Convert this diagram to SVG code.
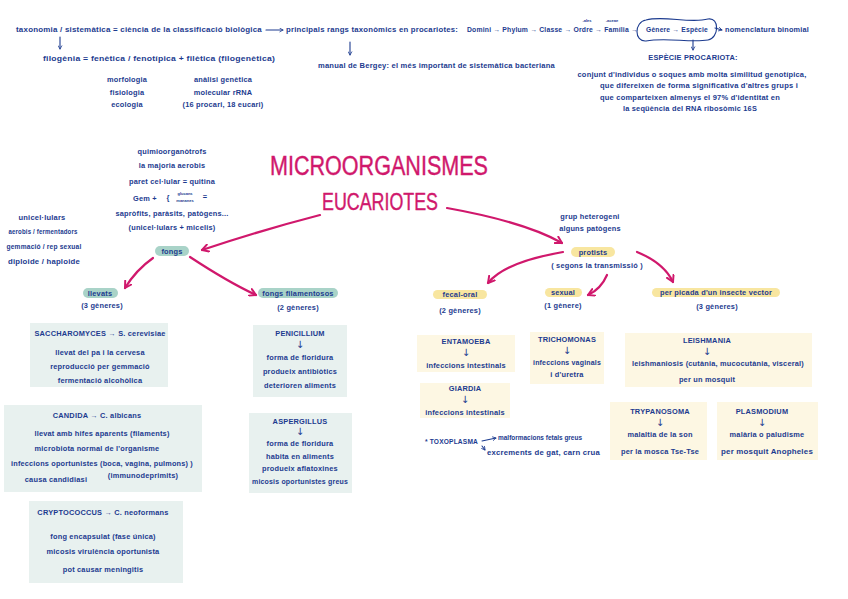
<svg xmlns="http://www.w3.org/2000/svg" width="848" height="599" viewBox="0 0 848 599">
<defs>
<style>
.t{font-family:"Liberation Sans",Arial,sans-serif;font-size:7.4px;font-weight:bold;letter-spacing:0.2px;fill:#1c3b8f;text-anchor:middle}
.s{text-anchor:start}
.sup{font-size:4px;letter-spacing:0}
.ar{font-family:"DejaVu Sans",sans-serif;font-size:10px;font-weight:normal;fill:#1c3b8f;text-anchor:middle}
.ttl{font-family:"Liberation Sans",Arial,sans-serif;fill:#d0186c;text-anchor:start;stroke:#d0186c;stroke-width:0.4}
.bt{fill:#e8f1ef}
.by{fill:#fdf7e3}
.ht{fill:#a9d3c8}
.hy{fill:#f8e6a0}
.pk{fill:none;stroke:#d0186c;stroke-width:2.2;stroke-linecap:round}
.bl{fill:none;stroke:#1c3b8f;stroke-width:1.1;stroke-linecap:round}
</style>
<marker id="ap" viewBox="0 0 10 10" refX="8" refY="5" markerWidth="9" markerHeight="9" markerUnits="userSpaceOnUse" orient="auto">
<path d="M1,1 L8,5 L1,9" fill="none" stroke="#d0186c" stroke-width="2.2" stroke-linecap="round" stroke-linejoin="round"/>
</marker>
<marker id="ab" viewBox="0 0 10 10" refX="8" refY="5" markerWidth="5" markerHeight="5" markerUnits="userSpaceOnUse" orient="auto">
<path d="M1,1 L8,5 L1,9" fill="none" stroke="#1c3b8f" stroke-width="1.6"/>
</marker>
</defs>
<rect width="848" height="599" fill="#ffffff"/>

<g id="connectors">
<path class="bl" d="M266,30 L283,30" marker-end="url(#ab)"/>
<path class="bl" d="M60,37 L60,49" marker-end="url(#ab)"/>
<path class="bl" d="M350,42 L350,55" marker-end="url(#ab)"/>
<path class="bl" d="M715,28 L722,30" marker-end="url(#ab)"/>
<path class="bl" d="M693,40 L693,50" marker-end="url(#ab)"/>
<path class="bl" d="M482,441 L496,438" marker-end="url(#ab)"/>
<path class="bl" d="M482,446 L485,450" marker-end="url(#ab)"/>
<path class="pk" d="M320,215 Q262,230 202,250" marker-end="url(#ap)"/>
<path class="pk" d="M447,208 Q525,222 562,243" marker-end="url(#ap)"/>
<path class="pk" d="M153,258 Q136,270 125,288" marker-end="url(#ap)"/>
<path class="pk" d="M190,257 Q228,282 256,295" marker-end="url(#ap)"/>
<path class="pk" d="M563,252 Q505,262 488,283" marker-end="url(#ap)"/>
<path class="pk" d="M607,275 Q601,289 588,295" marker-end="url(#ap)"/>
<path class="pk" d="M637,252 Q664,263 673,282" marker-end="url(#ap)"/>
</g>

<g id="taxonomia">
<text class="t s" x="16" y="32" textLength="246" lengthAdjust="spacingAndGlyphs">taxonomia / sistemàtica = ciència de la classificació biològica</text>
</g>
<g id="rangs">
<text class="t s" x="286" y="32" textLength="172" lengthAdjust="spacingAndGlyphs">principals rangs taxonòmics en procariotes:</text>
<text class="t s" x="467" y="32" textLength="171" lengthAdjust="spacingAndGlyphs">Domini → Phylum → Classe → Ordre → Família →</text>
<text class="t sup" x="587" y="22">-ales</text>
<text class="t sup" x="612" y="22">-aceae</text>
</g>
<g id="genere-especie">
<path class="bl" d="M646,20 C664,15 690,24 708,19 C720,17 719,38 708,40 C690,43 666,37 646,41 C634,42 634,22 646,20 Z"/>
<text class="t s" x="646" y="32" textLength="62" lengthAdjust="spacingAndGlyphs">Gènere → Espècie</text>
</g>
<g id="nomenclatura">
<text class="t s" x="725" y="32" textLength="84" lengthAdjust="spacingAndGlyphs">nomenclatura binomial</text>
</g>
<g id="filogenia">
<text class="t s" x="43" y="61" textLength="232" lengthAdjust="spacingAndGlyphs">filogènia = fenètica / fenotípica + filètica (filogenètica)</text>
</g>
<g id="fenetica">
<text class="t" x="127" y="82">morfologia</text>
<text class="t" x="127" y="95">fisiologia</text>
<text class="t" x="127" y="107">ecologia</text>
</g>
<g id="filetica">
<text class="t" x="223" y="82">anàlisi genètica</text>
<text class="t" x="223" y="95">molecular rRNA</text>
<text class="t" x="223" y="107">(16 procari, 18 eucari)</text>
</g>
<g id="bergey">
<text class="t s" x="318" y="68" textLength="237" lengthAdjust="spacingAndGlyphs">manual de Bergey: el més important de sistemàtica bacteriana</text>
</g>
<g id="especie-procariota">
<text class="t" x="693" y="60">ESPÈCIE PROCARIOTA:</text>
<text class="t" x="692" y="77" textLength="229" lengthAdjust="spacingAndGlyphs">conjunt d'individus o soques amb molta similitud genotípica,</text>
<text class="t" x="699" y="88" textLength="198" lengthAdjust="spacingAndGlyphs">que difereixen de forma significativa d'altres grups i</text>
<text class="t" x="690" y="100" textLength="180" lengthAdjust="spacingAndGlyphs">que comparteixen almenys el 97% d'identitat en</text>
<text class="t" x="690" y="111" textLength="134" lengthAdjust="spacingAndGlyphs">la seqüència del RNA ribosòmic 16S</text>
</g>

<g id="titol">
<text class="ttl" x="270" y="175" font-size="27" textLength="218" lengthAdjust="spacingAndGlyphs">MICROORGANISMES</text>
<text class="ttl" x="322" y="210" font-size="23" textLength="116" lengthAdjust="spacingAndGlyphs">EUCARIOTES</text>
</g>

<g id="fongs-caract">
<text class="t" x="172" y="154">quimioorganòtrofs</text>
<text class="t" x="172" y="168">la majoria aerobis</text>
<text class="t" x="172" y="184">paret cel·lular = quitina</text>
<text class="t s" x="133" y="201">Gem +</text>
<text class="t" x="168" y="200" font-size="9" font-weight="normal">{</text>
<text class="t sup" x="185" y="195">glucans</text>
<text class="t sup" x="185" y="202">mananes</text>
<text class="t" x="205" y="199">=</text>
<text class="t" x="172" y="216">sapròfits, paràsits, patògens...</text>
<text class="t" x="172" y="230">(unicel·lulars + micelis)</text>
</g>
<g id="llevats-caract">
<text class="t" x="42" y="220" textLength="47" lengthAdjust="spacingAndGlyphs">unicel·lulars</text>
<text class="t" x="43" y="234" textLength="69" lengthAdjust="spacingAndGlyphs">aerobis / fermentadors</text>
<text class="t" x="44" y="249" textLength="75" lengthAdjust="spacingAndGlyphs">gemmació / rep sexual</text>
<text class="t" x="44" y="264" textLength="72" lengthAdjust="spacingAndGlyphs">diploide / haploide</text>
</g>

<g id="fongs">
<rect class="ht" x="155" y="246" width="34" height="10" rx="5"/>
<text class="t" x="172" y="254">fongs</text>
</g>
<g id="llevats">
<rect class="ht" x="83" y="288" width="35" height="10" rx="5"/>
<text class="t" x="100" y="296">llevats</text>
<text class="t" x="102" y="308">(3 gèneres)</text>
</g>
<g id="fongs-filamentosos">
<rect class="ht" x="258" y="288" width="80" height="10" rx="5"/>
<text class="t" x="298" y="296">fongs filamentosos</text>
<text class="t" x="298" y="310">(2 gèneres)</text>
</g>

<g id="saccharomyces">
<rect class="bt" x="30" y="323" width="138" height="64"/>
<text class="t" x="100" y="336">SACCHAROMYCES → S. cerevisiae</text>
<text class="t" x="100" y="355">llevat del pa i la cervesa</text>
<text class="t" x="100" y="369">reproducció per gemmació</text>
<text class="t" x="100" y="383">fermentació alcohòlica</text>
</g>
<g id="candida">
<rect class="bt" x="4" y="405" width="198" height="87"/>
<text class="t" x="97" y="418">CANDIDA → C. albicans</text>
<text class="t" x="102" y="436">llevat amb hifes aparents (filaments)</text>
<text class="t" x="97" y="451">microbiota normal de l'organisme</text>
<text class="t" x="102" y="466" textLength="182" lengthAdjust="spacingAndGlyphs">infeccions oportunistes (boca, vagina, pulmons) )</text>
<text class="t" x="56" y="482">causa candidiasi</text>
<text class="t" x="143" y="478">(immunodeprimits)</text>
</g>
<g id="cryptococcus">
<rect class="bt" x="29" y="501" width="154" height="82"/>
<text class="t" x="103" y="515">CRYPTOCOCCUS → C. neoformans</text>
<text class="t" x="103" y="539">fong encapsulat (fase única)</text>
<text class="t" x="103" y="554">micosis virulència oportunista</text>
<text class="t" x="103" y="572">pot causar meningitis</text>
</g>
<g id="penicillium">
<rect class="bt" x="253" y="325" width="94" height="72"/>
<text class="t" x="300" y="336">PENICILLIUM</text>
<text class="ar" x="300" y="348">↓</text>
<text class="t" x="300" y="360">forma de floridura</text>
<text class="t" x="300" y="374">produeix antibiòtics</text>
<text class="t" x="300" y="388">deterioren aliments</text>
</g>
<g id="aspergillus">
<rect class="bt" x="249" y="413" width="103" height="80"/>
<text class="t" x="300" y="424">ASPERGILLUS</text>
<text class="ar" x="300" y="435">↓</text>
<text class="t" x="300" y="446">forma de floridura</text>
<text class="t" x="300" y="459">habita en aliments</text>
<text class="t" x="300" y="471">produeix aflatoxines</text>
<text class="t" x="300" y="484" textLength="96" lengthAdjust="spacingAndGlyphs">micosis oportunistes greus</text>
</g>

<g id="protists">
<text class="t" x="590" y="219">grup heterogeni</text>
<text class="t" x="590" y="231">alguns patògens</text>
<rect class="hy" x="571" y="247" width="44" height="10" rx="5"/>
<text class="t" x="593" y="255">protists</text>
<text class="t" x="597" y="268">( segons la transmissió )</text>
</g>
<g id="fecal-oral">
<rect class="hy" x="433" y="290" width="54" height="9" rx="4.5"/>
<text class="t" x="460" y="297">fecal-oral</text>
<text class="t" x="460" y="313">(2 gèneres)</text>
</g>
<g id="sexual">
<rect class="hy" x="545" y="288" width="37" height="9" rx="4.5"/>
<text class="t" x="563" y="295">sexual</text>
<text class="t" x="563" y="308">(1 gènere)</text>
</g>
<g id="picada">
<rect class="hy" x="652" y="288" width="128" height="9" rx="4.5"/>
<text class="t" x="716" y="295">per picada d'un insecte vector</text>
<text class="t" x="717" y="309">(3 gèneres)</text>
</g>

<g id="entamoeba">
<rect class="by" x="417" y="335" width="98" height="37"/>
<text class="t" x="466" y="344">ENTAMOEBA</text>
<text class="ar" x="466" y="356">↓</text>
<text class="t" x="466" y="368">infeccions intestinals</text>
</g>
<g id="giardia">
<rect class="by" x="420" y="383" width="90" height="35"/>
<text class="t" x="465" y="391">GIARDIA</text>
<text class="ar" x="465" y="403">↓</text>
<text class="t" x="465" y="415">infeccions intestinals</text>
</g>
<g id="trichomonas">
<rect class="by" x="530" y="332" width="74" height="52"/>
<text class="t" x="567" y="342">TRICHOMONAS</text>
<text class="ar" x="567" y="354">↓</text>
<text class="t" x="567" y="365" textLength="68" lengthAdjust="spacingAndGlyphs">infeccions vaginals</text>
<text class="t" x="567" y="377">i d'uretra</text>
</g>
<g id="toxoplasma">
<text class="t s" x="425" y="444" textLength="53" lengthAdjust="spacingAndGlyphs">* TOXOPLASMA</text>
<text class="t s" x="498" y="440" style="letter-spacing:0" textLength="84" lengthAdjust="spacingAndGlyphs">malformacions fetals greus</text>
<text class="t s" x="487" y="455" textLength="113" lengthAdjust="spacingAndGlyphs">excrements de gat, carn crua</text>
</g>
<g id="leishmania">
<rect class="by" x="625" y="333" width="187" height="54"/>
<text class="t" x="707" y="343">LEISHMANIA</text>
<text class="ar" x="707" y="355">↓</text>
<text class="t" x="718" y="366" textLength="172" lengthAdjust="spacingAndGlyphs">leishmaniosis (cutània, mucocutània, visceral)</text>
<text class="t" x="707" y="382">per un mosquit</text>
</g>
<g id="trypanosoma">
<rect class="by" x="610" y="402" width="97" height="58"/>
<text class="t" x="660" y="414">TRYPANOSOMA</text>
<text class="ar" x="660" y="426">↓</text>
<text class="t" x="660" y="437">malaltia de la son</text>
<text class="t" x="660" y="454">per la mosca Tse-Tse</text>
</g>
<g id="plasmodium">
<rect class="by" x="717" y="402" width="101" height="58"/>
<text class="t" x="762" y="414">PLASMODIUM</text>
<text class="ar" x="762" y="426">↓</text>
<text class="t" x="767" y="437">malària o paludisme</text>
<text class="t" x="767" y="454" textLength="92" lengthAdjust="spacingAndGlyphs">per mosquit Anopheles</text>
</g>
</svg>
